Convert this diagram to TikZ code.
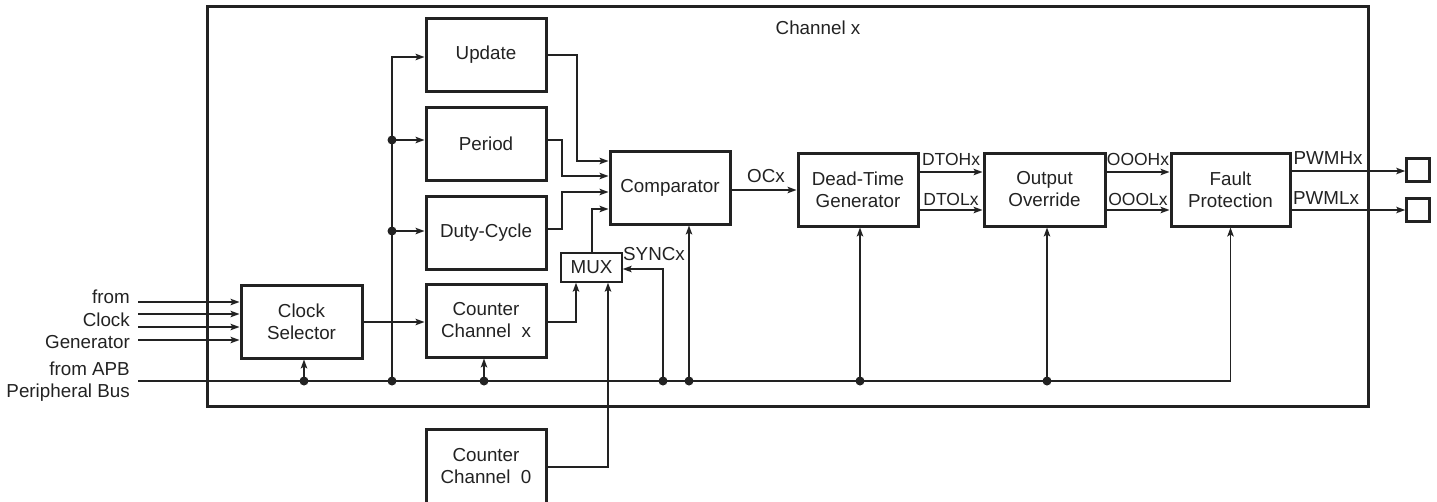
\documentclass[tikz,border=0pt]{standalone}
\usepackage{fontspec}
\setmainfont{Liberation Sans}
\usetikzlibrary{arrows.meta}
\definecolor{ink}{HTML}{222222}
\begin{document}
\begin{tikzpicture}[x=1pt,y=-1pt,
  font=\fontsize{18.8}{22}\selectfont,
  blk/.style={draw=ink, line width=3pt, minimum width=120pt, minimum height=73pt, inner sep=0pt, align=center, text=ink},
  wire/.style={line width=1.4pt, draw=ink},
  arr/.style={wire, -{Stealth[length=9pt,width=6.5pt,inset=2pt]}},
  dot/.style={circle, fill=ink, inner sep=0pt, minimum size=9pt},
  lbl/.style={inner sep=0pt, text=ink},
  sig/.style={inner sep=0pt, text=ink, font=\fontsize{17.5}{20}\selectfont}]
\useasboundingbox (0,0) rectangle (1437,501);

% frame
\node[draw=ink, line width=3pt, minimum width=1161pt, minimum height=400pt, inner sep=0pt] (frame) at (787.5,206) {};
\node[lbl] (title) at (818,28) {Channel x};

% blocks
\node[blk] (upd) at (486,54.5) {Update};
\node[blk] (per) at (486,143.5) {Period};
\node[blk] (duty) at (486,232.5) {Duty-Cycle};
\node[blk] (cntx) at (486,320.5) {Counter\\Channel\ \ x};
\node[blk, minimum height=74pt] (cnt0) at (486,466) {Counter\\Channel\ \ 0};
\node[blk, minimum width=121pt] (clk) at (301.5,321.5) {Clock\\Selector};
\node[blk] (cmp) at (670,187.5) {Comparator};
\node[blk] (dtg) at (858,189.5) {Dead-Time\\Generator};
\node[blk, minimum width=121pt] (ovr) at (1044.5,189.5) {Output\\Override};
\node[blk, minimum width=119pt] (flt) at (1230.5,189.5) {Fault\\Protection};
\node[draw=ink, line width=1.4pt, minimum width=61pt, minimum height=29pt, inner sep=0pt, text=ink] (mux) at (591.5,267.5) {MUX};
\node[draw=ink, line width=2.6pt, minimum size=23pt, inner sep=0pt] (sq1) at (1418,170) {};
\node[draw=ink, line width=2.6pt, minimum size=23pt, inner sep=0pt] (sq2) at (1418,210) {};

% bus
\coordinate (busL) at (138,381);
\node[dot] (b1) at (304,381) {};
\node[dot] (b2) at (392,381) {};
\node[dot] (b3) at (484,381) {};
\node[dot] (b4) at (663,381) {};
\node[dot] (b5) at (689,381) {};
\node[dot] (b6) at (860,381) {};
\node[dot] (b7) at (1047,381) {};
\draw[arr] (busL) -| (flt.south);
\draw[arr] (b1.center) -- (b1 |- clk.south);
\draw[arr] (b3.center) -- (b3 |- cntx.south);
\draw[arr] (b5.center) -- (b5 |- cmp.south);
\draw[arr] (b6.center) -- (b6 |- dtg.south);
\draw[arr] (b7.center) -- (b7 |- ovr.south);

% register feed
\coordinate (t1) at (392,57);
\node[dot] (p1) at (392,140) {};
\node[dot] (p2) at (392,231) {};
\draw[arr] (b2.center) -- (t1) -- (t1 -| upd.west);
\draw[arr] (p1.center) -- (p1 -| per.west);
\draw[arr] (p2.center) -- (p2 -| duty.west);

% clock inputs
\foreach \y [count=\i] in {302,314,327,340} {
  \coordinate (ci\i) at (138,\y);
  \draw[arr] (ci\i) -- (ci\i -| clk.west);
}
\draw[arr] (clk.east |- 0,322) -- (cntx.west |- 0,322);

% to comparator
\draw[arr] (upd.east |- 0,55) -| (577,161) -- (cmp.west |- 0,161);
\draw[arr] (per.east |- 0,140) -| (562,176) -- (cmp.west |- 0,176);
\draw[arr] (duty.east |- 0,229) -| (562,192) -- (cmp.west |- 0,192);
\draw[arr] (mux.north -| 592,0) |- (cmp.west |- 0,209);

% to mux
\draw[arr] (cntx.east |- 0,322) -| (mux.south -| 576,0);
\draw[arr] (cnt0.east |- 0,467) -| (mux.south -| 608,0);
\draw[arr] (b4.center) |- (mux.east |- 0,269);

% chain
\draw[arr] (cmp.east |- 0,190) -- (dtg.west |- 0,190);
\draw[arr] (dtg.east |- 0,172) -- (ovr.west |- 0,172);
\draw[arr] (dtg.east |- 0,210) -- (ovr.west |- 0,210);
\draw[arr] (ovr.east |- 0,172) -- (flt.west |- 0,172);
\draw[arr] (ovr.east |- 0,210) -- (flt.west |- 0,210);
\draw[arr] (flt.east |- 0,171) -- (sq1.west |- 0,171);
\draw[arr] (flt.east |- 0,210) -- (sq2.west);

% labels
\node[lbl] (locx) at (766,176) {OCx};
\node[sig] (ldh) at (951,159) {DTOHx};
\node[sig] (ldl) at (951,199) {DTOLx};
\node[sig] (loh) at (1138,159) {OOOHx};
\node[sig] (lol) at (1138,199) {OOOLx};
\node[lbl] (lph) at (1328,158) {PWMHx};
\node[lbl] (lpl) at (1326,198) {PWMLx};
\node[lbl, anchor=west] (lsync) at (623,254) {SYNCx};

\node[lbl, anchor=base east] (s1) at (130,303.5) {from};
\node[lbl, anchor=base east] (s2) at (130,326.5) {Clock};
\node[lbl, anchor=base east] (s3) at (130,348.5) {Generator};
\node[lbl, anchor=base east] (s4) at (130,375.5) {from APB};
\node[lbl, anchor=base east] (s5) at (130,397.5) {Peripheral Bus};
\end{tikzpicture}
\end{document}
